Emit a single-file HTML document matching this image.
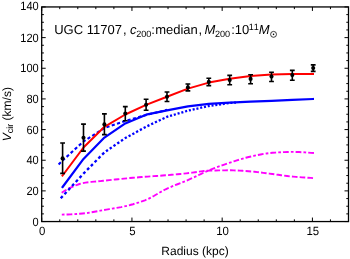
<!DOCTYPE html>
<html><head><meta charset="utf-8"><title>UGC 11707</title>
<style>
html,body{margin:0;padding:0;background:#fff;}
body{width:350px;height:259px;overflow:hidden;font-family:"Liberation Sans",sans-serif;}
svg{display:block;}
text{font-family:"Liberation Sans",sans-serif;fill:#000;text-rendering:geometricPrecision;}
svg{will-change:transform;}
</style></head><body>
<svg width="350" height="259" viewBox="0 0 350 259">
<rect x="0" y="0" width="350" height="259" fill="#fff"/>

<g fill="none" stroke-linejoin="round">
<path d="M61.70,192.70L64.66,190.81L66.48,189.75M68.38,188.69L70.60,187.55L73.44,186.31M75.46,185.49L76.52,185.06L79.50,184.00L80.76,183.66M82.86,183.13L85.42,182.68L88.40,182.27M90.56,182.02L91.36,181.93L94.32,181.64L96.14,181.47M98.30,181.28L100.26,181.10L103.22,180.82L103.88,180.75M106.04,180.52L106.18,180.50L109.16,180.18L111.62,179.91M113.78,179.68L115.08,179.54L118.06,179.22L119.36,179.09M121.52,178.87L123.98,178.62L126.94,178.34L127.10,178.33M129.26,178.13L129.92,178.07L132.88,177.80L134.84,177.63M137.02,177.44L138.82,177.29L141.78,177.05L142.60,176.98M144.76,176.81L147.72,176.58L150.36,176.39M152.52,176.24L153.64,176.16L156.60,175.96L158.12,175.85M160.28,175.71L162.54,175.55L165.50,175.32L165.88,175.29M168.04,175.11L168.48,175.08L171.44,174.82L173.62,174.62M175.80,174.42L177.36,174.27L180.34,173.98L181.36,173.88M183.54,173.66L186.26,173.37L189.10,173.06M191.26,172.78L192.20,172.66L195.16,172.23L196.82,171.98M198.96,171.68L201.10,171.38L204.06,171.03L204.52,170.99M206.70,170.81L207.02,170.79L210.00,170.66L212.30,170.59M214.48,170.53L215.92,170.49L218.90,170.42L220.08,170.40M222.26,170.36L224.82,170.33L227.78,170.30L227.86,170.30M230.04,170.30L230.76,170.30L233.72,170.36L235.62,170.43M237.80,170.53L239.66,170.63L242.62,170.82L243.40,170.88M245.58,171.03L248.56,171.25L251.16,171.45M253.32,171.64L254.48,171.75L257.44,172.07L258.90,172.25M261.06,172.52L263.38,172.83L266.34,173.23L266.60,173.27M268.76,173.55L269.32,173.63L272.28,174.00L274.32,174.28M276.48,174.57L278.20,174.81L281.18,175.23L282.02,175.35M284.18,175.65L287.10,176.03L289.74,176.33M291.92,176.55L293.04,176.66L296.00,176.91L297.50,177.02M299.66,177.17L301.94,177.33L304.90,177.52L305.26,177.54M307.44,177.68L307.86,177.71L310.84,177.92L313.02,178.09" stroke="#ff00ff" stroke-width="1.9"/>
<path d="M61.80,214.60L64.50,214.57M66.54,214.51L67.74,214.48L70.70,214.34L72.32,214.24M74.42,214.11L76.64,213.95L77.12,213.91M79.14,213.76L79.60,213.72L82.56,213.48L84.90,213.26M87.00,213.00L88.50,212.81L89.68,212.62M91.68,212.29L94.44,211.79L97.36,211.22M99.44,210.82L100.38,210.63L102.10,210.31M104.10,209.95L106.30,209.57L109.28,209.09L109.80,209.00M111.88,208.67L112.24,208.61L114.56,208.23M116.56,207.89L118.18,207.61L121.14,207.06L122.24,206.83M124.32,206.40L126.94,205.81M128.92,205.32L130.04,205.04L133.00,204.23L134.50,203.78M136.52,203.17L138.94,202.40L139.08,202.35M141.00,201.69L141.92,201.37L144.88,200.28L146.42,199.66M148.38,198.83L150.80,197.65M152.58,196.68L153.78,196.02L156.74,194.30L157.60,193.79M159.42,192.71L159.72,192.53L161.76,191.36M163.54,190.38L165.64,189.27L168.62,187.88L168.72,187.84M170.66,187.01L171.58,186.61L173.16,185.97M175.04,185.22L177.52,184.25L180.44,183.13M182.40,182.36L183.44,181.95L184.92,181.35M186.80,180.57L189.38,179.45L192.06,178.22M193.98,177.30L195.32,176.66L196.42,176.13M198.24,175.25L198.28,175.23L201.26,173.79L203.46,172.76M205.38,171.88L207.18,171.08L207.86,170.80M209.74,170.02L210.16,169.84L213.12,168.66L215.10,167.89M217.08,167.14L219.06,166.39L219.62,166.19M221.52,165.50L222.02,165.32L224.98,164.28L226.98,163.60M229.00,162.93L230.92,162.30L231.56,162.09M233.50,161.46L233.88,161.33L236.86,160.38L239.00,159.72M241.04,159.11L242.80,158.59L243.62,158.36M245.58,157.82L245.76,157.77L248.72,157.02L251.20,156.46M253.28,156.00L254.66,155.69L255.90,155.43M257.90,155.00L260.60,154.45L263.56,153.91M265.66,153.58L266.52,153.44L268.34,153.22M270.36,153.00L272.46,152.82L275.42,152.61L276.12,152.56M278.24,152.42L278.40,152.41L280.94,152.26M282.96,152.15L284.32,152.09L287.30,151.98L288.74,151.95M290.86,151.91L293.24,151.90L293.56,151.91M295.58,151.95L296.20,151.96L299.16,152.07L301.36,152.18M303.48,152.31L305.10,152.41L306.16,152.49M308.20,152.63L311.04,152.84L313.96,153.07" stroke="#ff00ff" stroke-width="1.9"/>
<path d="M60.70,198.30L62.70,196.13M64.48,194.20L66.48,192.03M68.24,190.13L70.24,187.96M72.02,186.03L74.02,183.86M75.80,181.93L77.80,179.76M79.56,177.85L81.56,175.69M83.32,173.78L83.48,173.61L85.32,171.74M87.10,169.93L89.10,167.90M90.88,166.09L92.86,164.08M94.64,162.28L96.64,160.25M98.40,158.46L100.40,156.43M102.18,154.62L104.18,152.59M105.96,151.31L107.96,149.94M109.72,148.74L111.72,147.37M113.48,146.16L115.48,144.79M117.26,143.57L119.26,142.20M121.02,141.00L123.02,139.63M124.80,138.41L125.26,138.10L126.80,137.26M128.58,136.29L130.58,135.19M132.34,134.23L134.34,133.14M136.10,132.18L138.10,131.09M139.88,130.12L141.88,129.03M143.66,128.05L145.66,126.96M147.42,126.09L149.42,125.15M151.18,124.31L153.18,123.36M154.96,122.52L156.96,121.57M158.74,120.73L160.74,119.78M162.50,118.94L164.50,118.00M166.28,117.15L167.02,116.80L168.28,116.43M170.04,115.92L172.04,115.34M173.80,114.82L175.80,114.24M177.58,113.72L179.58,113.13M181.34,112.62L183.34,112.03M185.12,111.51L187.12,110.93M188.90,110.48L190.90,110.03M192.66,109.63L194.66,109.18M196.42,108.78L198.42,108.33M200.20,107.93L202.20,107.48M203.98,107.08L205.98,106.63M207.74,106.24L208.80,106.00L209.74,105.86M211.52,105.61L213.52,105.32M215.28,105.07L217.28,104.78M219.04,104.53L221.04,104.24M222.82,103.99L224.82,103.70M226.60,103.44L228.60,103.16M230.36,102.96L232.36,102.83M234.12,102.72L236.00,102.60L236.00,102.60" stroke="#0000ff" stroke-width="2.3"/>
<path d="M58.60,164.60L60.84,162.30M62.48,160.62L62.60,160.50L64.84,158.45M66.58,156.86L68.94,154.70M70.68,153.11L73.04,150.95M74.76,149.38L77.12,147.22M78.86,145.63L81.22,143.48M82.96,141.89L83.60,141.30L85.56,140.05M87.54,138.79L90.24,137.06M92.22,135.80L94.92,134.08M96.90,132.81L99.60,131.09M101.58,129.83L104.28,128.10M106.46,127.28L109.50,126.26M111.72,125.52L114.76,124.50M117.00,123.75L120.02,122.74M122.26,121.99L125.28,120.97M127.54,120.31L130.62,119.43M132.88,118.78L135.96,117.90M138.22,117.25L141.28,116.37M143.54,115.72L146.40,114.90L146.62,114.85M148.90,114.29L152.02,113.53M154.30,112.97L157.40,112.22M159.70,111.65L162.80,110.90M165.08,110.34L167.30,109.80L167.30,109.80" stroke="#0000ff" stroke-width="2.1"/>
<polyline points="61.9,187.94 62.6,187.0 83.5,158.9 104.4,137.6 125.3,123.4 146.1,114.7 167.0,110.3 187.9,106.3 208.8,103.9 229.7,102.6 250.6,101.6 271.5,100.8 292.3,99.9 313.2,99.0 314.0,98.97" stroke="#0000ff" stroke-width="2.2"/>
<polyline points="61.9,176.44 62.6,175.5 83.5,147.5 104.4,126.8 125.3,114.5 146.1,104.9 167.0,96.7 187.9,88.6 208.8,82.6 229.7,78.7 250.6,75.9 271.5,74.4 292.3,73.9 313.2,74.1 314.0,74.11999999999999" stroke="#ff0000" stroke-width="2.0"/>
</g>
<g stroke="#000" stroke-width="1.6" fill="#000">
<path d="M62.6,143.0V173.4M60.2,143.0h4.8M60.2,173.4h4.8" fill="none"/>
<circle cx="62.6" cy="158.4" r="2.05" stroke="none"/>
<path d="M83.5,124.1V151.1M81.1,124.1h4.8M81.1,151.1h4.8" fill="none"/>
<circle cx="83.5" cy="137.8" r="2.05" stroke="none"/>
<path d="M104.4,113.9V134.6M102.0,113.9h4.8M102.0,134.6h4.8" fill="none"/>
<circle cx="104.4" cy="124.4" r="2.05" stroke="none"/>
<path d="M125.3,106.6V120.7M122.9,106.6h4.8M122.9,120.7h4.8" fill="none"/>
<circle cx="125.3" cy="113.5" r="2.05" stroke="none"/>
<path d="M146.1,99.3V110.2M143.7,99.3h4.8M143.7,110.2h4.8" fill="none"/>
<circle cx="146.1" cy="104.8" r="2.05" stroke="none"/>
<path d="M167.0,92.0V101.5M164.6,92.0h4.8M164.6,101.5h4.8" fill="none"/>
<circle cx="167.0" cy="96.8" r="2.05" stroke="none"/>
<path d="M187.9,84.0V90.9M185.5,84.0h4.8M185.5,90.9h4.8" fill="none"/>
<circle cx="187.9" cy="87.4" r="2.05" stroke="none"/>
<path d="M208.8,78.2V85.6M206.4,78.2h4.8M206.4,85.6h4.8" fill="none"/>
<circle cx="208.8" cy="81.9" r="2.05" stroke="none"/>
<path d="M229.7,75.4V84.8M227.3,75.4h4.8M227.3,84.8h4.8" fill="none"/>
<circle cx="229.7" cy="80.1" r="2.05" stroke="none"/>
<path d="M250.6,74.7V83.8M248.2,74.7h4.8M248.2,83.8h4.8" fill="none"/>
<circle cx="250.6" cy="78.9" r="2.05" stroke="none"/>
<path d="M271.5,72.2V81.5M269.1,72.2h4.8M269.1,81.5h4.8" fill="none"/>
<circle cx="271.5" cy="76.6" r="2.05" stroke="none"/>
<path d="M292.3,70.4V80.2M289.9,70.4h4.8M289.9,80.2h4.8" fill="none"/>
<circle cx="292.3" cy="75.1" r="2.05" stroke="none"/>
<path d="M313.2,64.9V71.4M310.8,64.9h4.8M310.8,71.4h4.8" fill="none"/>
<circle cx="313.2" cy="68.1" r="2.05" stroke="none"/>
</g>
<rect x="41.7" y="6.95" width="306.8" height="214.6" fill="none" stroke="#000" stroke-width="1.3"/>
<path d="M41.70,221.55v-4.0M41.70,6.95v4.0M59.75,221.55v-2.2M59.75,6.95v2.2M77.79,221.55v-2.2M77.79,6.95v2.2M95.84,221.55v-2.2M95.84,6.95v2.2M113.89,221.55v-2.2M113.89,6.95v2.2M131.94,221.55v-4.0M131.94,6.95v4.0M149.98,221.55v-2.2M149.98,6.95v2.2M168.03,221.55v-2.2M168.03,6.95v2.2M186.08,221.55v-2.2M186.08,6.95v2.2M204.12,221.55v-2.2M204.12,6.95v2.2M222.17,221.55v-4.0M222.17,6.95v4.0M240.22,221.55v-2.2M240.22,6.95v2.2M258.26,221.55v-2.2M258.26,6.95v2.2M276.31,221.55v-2.2M276.31,6.95v2.2M294.36,221.55v-2.2M294.36,6.95v2.2M312.41,221.55v-4.0M312.41,6.95v4.0M330.45,221.55v-2.2M330.45,6.95v2.2M348.50,221.55v-2.2M348.50,6.95v2.2M41.7,221.55h4.0M348.5,221.55h-4.0M41.7,213.89h2.2M348.5,213.89h-2.2M41.7,206.22h2.2M348.5,206.22h-2.2M41.7,198.56h2.2M348.5,198.56h-2.2M41.7,190.89h4.0M348.5,190.89h-4.0M41.7,183.23h2.2M348.5,183.23h-2.2M41.7,175.56h2.2M348.5,175.56h-2.2M41.7,167.90h2.2M348.5,167.90h-2.2M41.7,160.24h4.0M348.5,160.24h-4.0M41.7,152.57h2.2M348.5,152.57h-2.2M41.7,144.91h2.2M348.5,144.91h-2.2M41.7,137.24h2.2M348.5,137.24h-2.2M41.7,129.58h4.0M348.5,129.58h-4.0M41.7,121.91h2.2M348.5,121.91h-2.2M41.7,114.25h2.2M348.5,114.25h-2.2M41.7,106.59h2.2M348.5,106.59h-2.2M41.7,98.92h4.0M348.5,98.92h-4.0M41.7,91.26h2.2M348.5,91.26h-2.2M41.7,83.59h2.2M348.5,83.59h-2.2M41.7,75.93h2.2M348.5,75.93h-2.2M41.7,68.26h4.0M348.5,68.26h-4.0M41.7,60.60h2.2M348.5,60.60h-2.2M41.7,52.94h2.2M348.5,52.94h-2.2M41.7,45.27h2.2M348.5,45.27h-2.2M41.7,37.61h4.0M348.5,37.61h-4.0M41.7,29.94h2.2M348.5,29.94h-2.2M41.7,22.28h2.2M348.5,22.28h-2.2M41.7,14.61h2.2M348.5,14.61h-2.2M41.7,6.95h4.0M348.5,6.95h-4.0" stroke="#000" stroke-width="1" fill="none"/>
<g font-size="12px">
<text transform="translate(42.15,235.4) scale(0.95,1)" text-anchor="middle">0</text>
<text transform="translate(132.39,235.4) scale(0.95,1)" text-anchor="middle">5</text>
<text transform="translate(222.62,235.4) scale(0.95,1)" text-anchor="middle">10</text>
<text transform="translate(312.86,235.4) scale(0.95,1)" text-anchor="middle">15</text>
<text transform="translate(38.7,225.55) scale(0.92,1)" text-anchor="end">0</text>
<text transform="translate(38.7,194.89) scale(0.92,1)" text-anchor="end">20</text>
<text transform="translate(38.7,164.24) scale(0.92,1)" text-anchor="end">40</text>
<text transform="translate(38.7,133.58) scale(0.92,1)" text-anchor="end">60</text>
<text transform="translate(38.7,102.92) scale(0.92,1)" text-anchor="end">80</text>
<text transform="translate(38.7,72.26) scale(0.92,1)" text-anchor="end">100</text>
<text transform="translate(38.7,41.61) scale(0.92,1)" text-anchor="end">120</text>
<text transform="translate(38.7,9.90) scale(0.92,1)" text-anchor="end">140</text>
</g>
<text x="195" y="255" font-size="12px" text-anchor="middle">Radius (kpc)</text>
<text transform="translate(11.3,114.2) rotate(-90)" font-size="12px" text-anchor="middle"><tspan font-style="italic">V</tspan><tspan font-size="9px" dy="1.9">cir</tspan><tspan dy="-1.9"> (km/s)</tspan></text>
<text x="54.2" y="34.4" font-size="13px">UGC 11707</text>
<text x="122.9" y="34.4" font-size="13px">,</text>
<text x="129.9" y="34.4" font-size="13px" font-style="italic">c</text>
<text x="136.2" y="37.0" font-size="9.1px">200</text>
<text x="151.3" y="34.4" font-size="13px">:</text>
<text x="155.2" y="34.4" font-size="13px">median</text>
<text x="198.5" y="34.4" font-size="13px">,</text>
<text x="204.6" y="34.4" font-size="13px" font-style="italic">M</text>
<text x="214.9" y="37.0" font-size="9.1px">200</text>
<text x="231.3" y="34.4" font-size="13px">:</text>
<text x="234.8" y="34.4" font-size="13px">10</text>
<text x="248.7" y="30.0" font-size="9.1px" letter-spacing="0.8">11</text>
<text x="258.8" y="34.4" font-size="13px" font-style="italic">M</text>
<circle cx="273.55" cy="34.35" r="2.95" fill="none" stroke="#000" stroke-width="0.75"/><circle cx="273.55" cy="34.35" r="0.8" fill="#000"/>
</svg></body></html>
